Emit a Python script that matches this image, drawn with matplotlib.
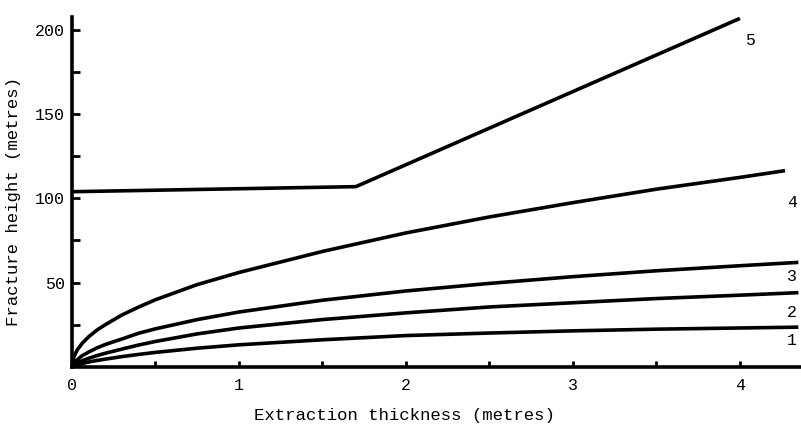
import numpy as np
import matplotlib
matplotlib.use('Agg')
import matplotlib.pyplot as plt

plt.rcParams['font.family'] = ['Liberation Mono', 'DejaVu Sans Mono']

# values
x_curve = [0, 0.01, 0.03, 0.06, 0.1, 0.15, 0.2, 0.3, 0.4, 0.5, 0.75, 1.0, 1.5, 2.0, 2.5, 3.0, 3.5, 4.0, 4.35]
h1 = [0, 0.4, 1.0, 1.8, 2.8, 3.7, 4.5, 6.0, 7.3, 8.5, 11.0, 13.0, 16.0, 18.5, 20.0, 21.3, 22.3, 23.0, 23.5]
h2 = [0, 0.8, 2.0, 3.5, 5.0, 6.6, 8.0, 10.5, 12.9, 15.0, 19.5, 23.0, 28.0, 32.0, 35.5, 38.0, 40.5, 42.5, 44.0]
h3 = [0, 1.8, 4.0, 6.5, 8.7, 11.2, 13.2, 16.5, 19.9, 22.5, 28.0, 32.5, 39.5, 45.0, 49.5, 53.5, 57.0, 60.0, 62.0]
x4 = [0, 0.01, 0.03, 0.06, 0.1, 0.15, 0.2, 0.3, 0.4, 0.5, 0.75, 1.0, 1.5, 2.0, 2.5, 3.0, 3.5, 4.0, 4.27]
h4 = [0, 5.5, 9.8, 13.8, 17.8, 21.8, 25.0, 30.8, 35.5, 39.8, 48.8, 56.0, 68.5, 79.5, 89.0, 97.5, 105.5, 112.5, 116.5]
x5 = [0, 1.7, 4.0]
h5 = [104, 107, 207]

curve_names = ['1', '2', '3', '4', '5']
label_x = [4.31, 4.31, 4.31, 4.31, 4.06]
label_y = [15.5, 32, 53.5, 97.5, 194]

fig = plt.figure(figsize=(8.01, 4.25), dpi=100)
ax = fig.add_axes([0.0899, 0.1372, 0.9089, 0.8235])

lw = 2.6
for yy in [h1, h2, h3]:
    ax.plot(x_curve, yy, color='black', lw=lw, solid_capstyle='butt', solid_joinstyle='round')
ax.plot(x4, h4, color='black', lw=lw, solid_capstyle='butt', solid_joinstyle='round')
ax.plot(x5, h5, color='black', lw=lw, solid_capstyle='butt', solid_joinstyle='round')

for name, lx, ly in zip(curve_names, label_x, label_y):
    ax.text(lx, ly, name, ha='center', va='center', fontsize=12)

ax.set_xlim(0, 4.36)
ax.set_ylim(0, 208)

for s in ['top', 'right']:
    ax.spines[s].set_visible(False)
for s in ['left', 'bottom']:
    ax.spines[s].set_linewidth(2.6)

ax.set_xticks([0, 1, 2, 3, 4])
ax.set_xticks([0.5, 1.5, 2.5, 3.5], minor=True)
ax.set_xticklabels(['0', '1', '2', '3', '4'])
ax.set_yticks([50, 100, 150, 200])
ax.set_yticks([25, 75, 125, 175], minor=True)
ax.set_yticklabels(['50', '100', '150', '200'])

ax.tick_params(axis='x', which='both', direction='in', length=4, width=2, pad=8, labelsize=12)
ax.tick_params(axis='y', which='both', direction='in', length=6, width=2, pad=5, labelsize=12)

fig.text(404 / 801, 5 / 425, 'Extraction thickness (metres)', ha='center', va='baseline', fontsize=12.5)
fig.text(14 / 801, 1 - 201 / 425, 'Fracture height (metres)', ha='center', va='center',
         rotation=90, fontsize=12.5)

fig.savefig('out.png', dpi=100, facecolor='white')
